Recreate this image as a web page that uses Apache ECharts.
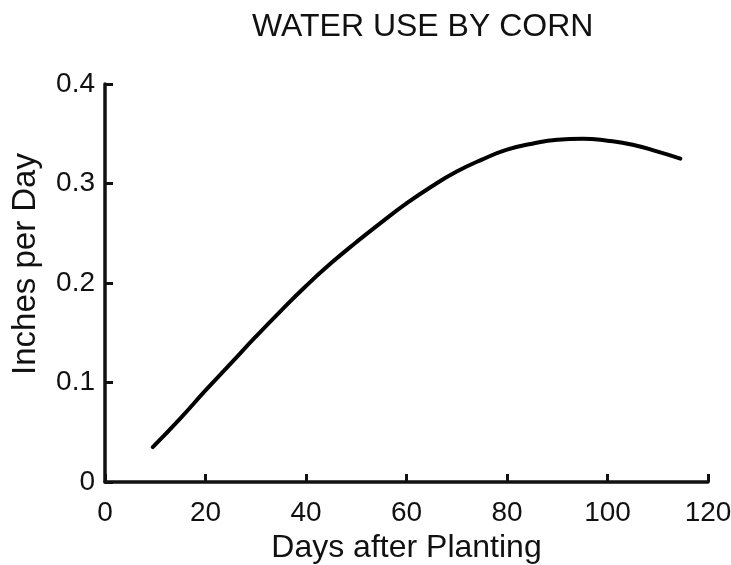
<!DOCTYPE html>
<html>
<head>
<meta charset="utf-8">
<title>Water use by corn</title>
<script src="https://cdn.jsdelivr.net/npm/echarts@6/dist/echarts.min.js"></script>
<style>
  html, body { margin: 0; padding: 0; background: #fff; }
  #chart { width: 731px; height: 565px; }
</style>
</head>
<body>
<div id="chart"></div>
<script>
// values
const days = [9.5, 15, 20, 25, 30, 35, 40, 45, 50, 55, 60, 65, 70, 75, 80, 85, 90, 95, 100, 105, 110, 114.5];
const inchesPerDay = [0.035, 0.064, 0.092, 0.119, 0.146, 0.172, 0.197, 0.220, 0.241, 0.261, 0.280, 0.297,
  0.312, 0.324, 0.334, 0.340, 0.344, 0.345, 0.343, 0.339, 0.332, 0.325];
const xTicks = [0, 20, 40, 60, 80, 100, 120];
const yTicks = [0, 0.1, 0.2, 0.3, 0.4];

const font = "'Liberation Sans', Arial, sans-serif";
const ink = "#111";

const chart = echarts.init(document.getElementById("chart"));

const points = days.map((d, i) => [d, inchesPerDay[i]]);

const option = {
  animation: false,
  backgroundColor: "#fff",
  title: {
    text: "WATER USE BY CORN",
    left: 247,
    top: 6,
    textStyle: { fontFamily: font, fontSize: 32, fontWeight: "normal", color: ink },
  },
  // keep the plot box fixed, labels sit outside it
  grid: { left: 105, right: 23, top: 84, bottom: 83, containLabel: false, outerBoundsMode: "none" },
  xAxis: {
    type: "value",
    min: xTicks[0],
    max: xTicks[xTicks.length - 1],
    interval: 20,
    name: "Days after Planting",
    nameLocation: "middle",
    nameGap: 50,
    nameTextStyle: { fontFamily: font, fontSize: 32, color: ink },
    axisLine: { lineStyle: { color: ink, width: 3.5 } },
    axisTick: { inside: true, length: 8, lineStyle: { color: ink, width: 3 } },
    axisLabel: { fontFamily: font, fontSize: 28, color: ink, margin: 17 },
    splitLine: { show: false },
  },
  yAxis: {
    type: "value",
    min: yTicks[0],
    max: yTicks[yTicks.length - 1],
    interval: 0.1,
    name: "Inches per Day",
    nameLocation: "middle",
    nameGap: 63,
    nameTextStyle: { fontFamily: font, fontSize: 33, color: ink, padding: [0, 0, 0, 38] },
    axisLine: { show: true, lineStyle: { color: ink, width: 3.5 } },
    axisTick: { show: true, inside: true, length: 8, lineStyle: { color: ink, width: 3 } },
    axisLabel: { fontFamily: font, fontSize: 28, color: ink, margin: 10 },
    splitLine: { show: false },
  },
  series: [
    {
      type: "line",
      data: points,
      smooth: 0.5,
      showSymbol: false,
      lineStyle: { color: "#000", width: 4, cap: "round" },
    },
  ],
};

chart.setOption(option);
</script>
</body>
</html>
